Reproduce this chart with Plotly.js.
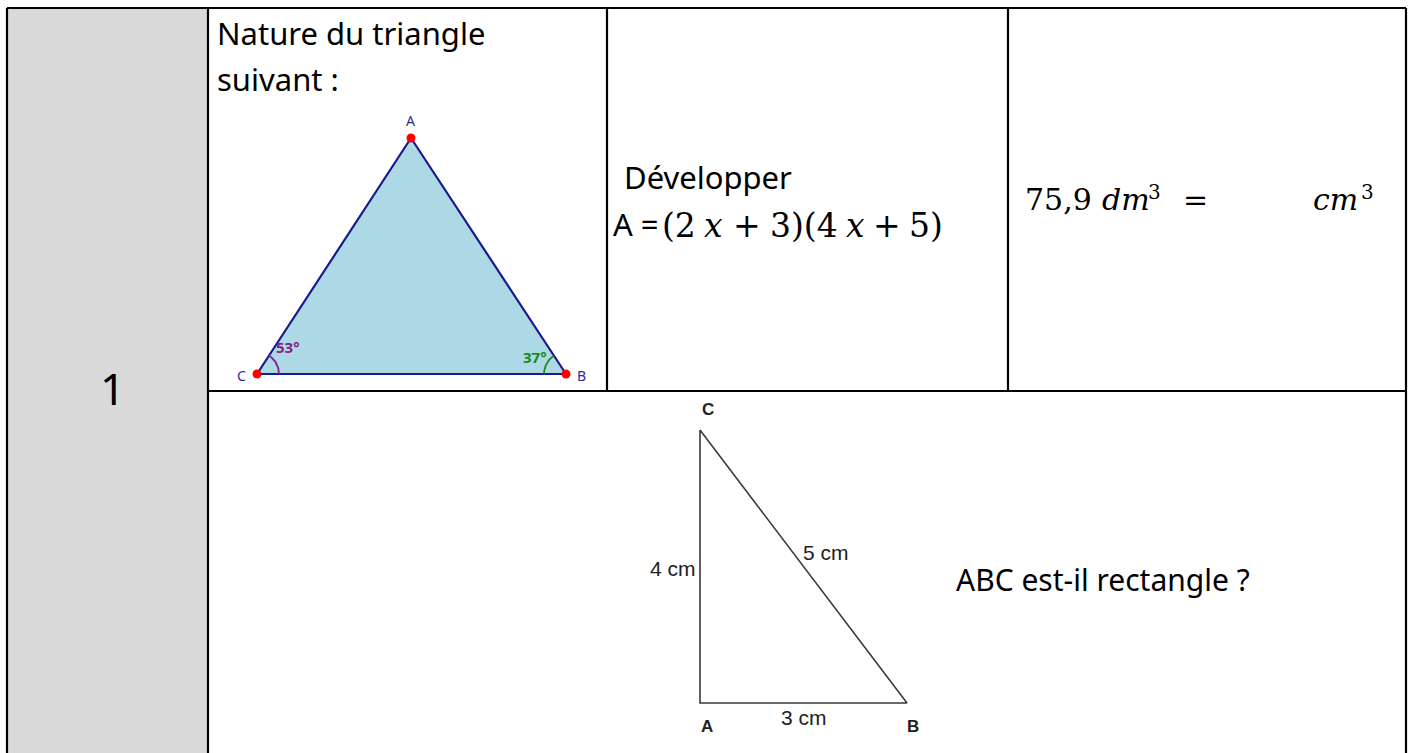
<!DOCTYPE html>
<html>
<head>
<meta charset="utf-8">
<script src="https://cdn.plot.ly/plotly-3.0.1.min.js"></script>
<style>html,body{margin:0;padding:0;background:#fff;}#chart{width:1413px;height:753px;}</style>
</head>
<body>
<div id="chart"></div>
<script>
// ---- Data (picture units) ----
const gridColX = [7, 208, 607, 1008, 1406];
const gridRowY = [8, 391, 753];
const questionNumber = "1";

// Triangle 1 (GeoGebra style figure)
const tri1Labels = ["A", "B", "C"];
const tri1X = [411, 566, 257];
const tri1Y = [138, 374, 374];
const tri1LabelX = [410, 581, 241];
const tri1LabelY = [120, 375, 375];
const angleLabels = ["53°", "37°"];
const angleLabelX = [288, 535];
const angleLabelY = [347, 357];

// Triangle 2 (3-4-5 triangle)
const tri2Labels = ["C", "A", "B"];
const tri2X = [700, 700, 907];
const tri2Y = [430, 703, 703];
const tri2LabelX = [708, 707, 913];
const tri2LabelY = [409, 726, 726];
const sideLabels = ["4 cm", "5 cm", "3 cm"];
const sideLabelX = [673, 826, 804];
const sideLabelY = [568, 552, 717];

// Expression tokens: A = (2x + 3)(4x + 5)
const exprTokens = ["(2", "x", "+", "3)(4", "x", "+", "5)"];
const exprItalic = [false, true, false, false, true, false, false];
const exprX = [660, 702, 731, 768, 844, 871, 907];
// Conversion tokens: 75,9 dm³ =   cm³
const convTokens = ["75,9", "dm", "3", "=", "cm", "3"];
const convItalic = [false, true, false, false, true, false];
const convSuper = [false, false, true, false, false, true];
const convX = [1023, 1100, 1146, 1181, 1311, 1359];

// ---- Build ----
const SANS = "Noto Sans, Open Sans, sans-serif";
const SERIF = "DejaVu Serif, Liberation Serif, serif";
const ARIAL = "Liberation Sans, Arial, sans-serif";

function arc(cx, cy, r, a0, a1) {
  const xs = [], ys = [];
  const n = 30;
  for (let i = 0; i <= n; i++) {
    const a = (a0 + (a1 - a0) * i / n) * Math.PI / 180;
    xs.push(cx + r * Math.cos(a));
    ys.push(cy - r * Math.sin(a));
  }
  return {xs, ys};
}
function angleAt(p, q) {
  return Math.atan2(-(tri1Y[q] - tri1Y[p]), tri1X[q] - tri1X[p]) * 180 / Math.PI;
}

const traces = [];
traces.push({
  x: tri1X.concat([tri1X[0]]), y: tri1Y.concat([tri1Y[0]]),
  mode: "lines", fill: "toself", fillcolor: "#add8e6",
  line: {color: "#1a1a8c", width: 2.2}, hoverinfo: "skip", showlegend: false
});
const aC = arc(tri1X[2], tri1Y[2], 22, 0, angleAt(2, 0));
traces.push({x: aC.xs, y: aC.ys, mode: "lines", line: {color: "#8b1a8b", width: 1.8}, hoverinfo: "skip", showlegend: false});
const aB = arc(tri1X[1], tri1Y[1], 22, angleAt(1, 0), 180);
traces.push({x: aB.xs, y: aB.ys, mode: "lines", line: {color: "#1a8a1a", width: 1.8}, hoverinfo: "skip", showlegend: false});
traces.push({x: tri1X, y: tri1Y, mode: "markers", marker: {color: "#ff0000", size: 9}, hoverinfo: "skip", showlegend: false});
traces.push({
  x: tri2X.concat([tri2X[0]]), y: tri2Y.concat([tri2Y[0]]),
  mode: "lines", line: {color: "#3a3a3a", width: 1.6}, hoverinfo: "skip", showlegend: false
});

// grid shapes
const shapes = [];
shapes.push({type: "rect", x0: gridColX[0], x1: gridColX[1], y0: gridRowY[0], y1: gridRowY[2] + 5,
  fillcolor: "#d9d9d9", line: {width: 0}, layer: "below"});
const L = (x0, y0, x1, y1) => ({type: "line", x0, y0, x1, y1, line: {color: "#000", width: 2.2}});
shapes.push(L(gridColX[0], gridRowY[0], gridColX[4], gridRowY[0]));
shapes.push(L(gridColX[0], gridRowY[0], gridColX[0], gridRowY[2] + 5));
shapes.push(L(gridColX[4], gridRowY[0], gridColX[4], gridRowY[2] + 5));
shapes.push(L(gridColX[1], gridRowY[0], gridColX[1], gridRowY[2] + 5));
shapes.push(L(gridColX[2], gridRowY[0], gridColX[2], gridRowY[1]));
shapes.push(L(gridColX[3], gridRowY[0], gridColX[3], gridRowY[1]));
shapes.push(L(gridColX[1], gridRowY[1], gridColX[4], gridRowY[1]));

const ann = (text, x, y, size, family, opts) => {
  opts = opts || {};
  return {
    text, x, y, xref: "x", yref: "y", showarrow: false,
    xanchor: opts.xanchor || "left", yanchor: "middle",
    font: {family, size, color: opts.color || "#000",
           style: opts.italic ? "italic" : "normal",
           weight: opts.bold ? "bold" : "normal"},
    align: "left"
  };
};
const annotations = [
  ann(questionNumber, 112, 388, 44, SANS, {xanchor: "center"}),
  ann("Nature du triangle", 215, 33, 31, SANS),
  ann("suivant :", 215, 79, 31, SANS),
  ann("Développer", 622, 177, 31, SANS),
  ann("A =", 611, 224, 31, SANS),
  ann("ABC est-il rectangle ?", 954, 579, 30, SANS)
];
exprTokens.forEach((t, i) => annotations.push(ann(t, exprX[i], 225, 33, SERIF, {italic: exprItalic[i]})));
convTokens.forEach((t, i) => annotations.push(convSuper[i]
  ? ann(t, convX[i], 192, 20, SERIF)
  : ann(t, convX[i], 199, 30, SERIF, {italic: convItalic[i]})));
tri1Labels.forEach((t, i) => annotations.push(ann(t, tri1LabelX[i], tri1LabelY[i], 14, SANS, {xanchor: "center", color: "#2b2b9a"})));
angleLabels.forEach((t, i) => annotations.push(ann(t, angleLabelX[i], angleLabelY[i], 15, SANS,
  {xanchor: "center", bold: true, color: i === 0 ? "#8b1a8b" : "#1a8a1a"})));
tri2Labels.forEach((t, i) => annotations.push(ann(t, tri2LabelX[i], tri2LabelY[i], 17, ARIAL, {xanchor: "center", bold: true, color: "#222"})));
sideLabels.forEach((t, i) => annotations.push(ann(t, sideLabelX[i], sideLabelY[i], 21, ARIAL, {xanchor: "center", color: "#222"})));

const layout = {
  width: 1413, height: 753, margin: {l: 0, r: 0, t: 0, b: 0},
  paper_bgcolor: "#fff", plot_bgcolor: "#fff",
  xaxis: {range: [0, 1413], visible: false, fixedrange: true},
  yaxis: {range: [753, 0], visible: false, fixedrange: true},
  shapes, annotations, showlegend: false
};
Plotly.newPlot("chart", traces, layout, {displayModeBar: false, staticPlot: true});
</script>
</body>
</html>
